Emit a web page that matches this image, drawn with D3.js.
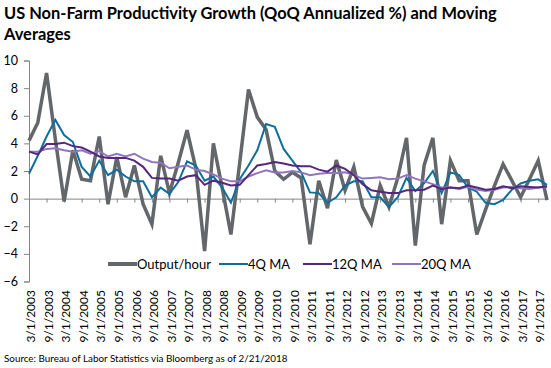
<!DOCTYPE html>
<html>
<head>
<meta charset="utf-8">
<script src="https://cdn.jsdelivr.net/npm/d3@7"></script>
<style>
  body { margin: 0; background: #fff; }
  svg { display: block; }
  text { font-family: Lato, "Open Sans", sans-serif; fill: #000; }
</style>
</head>
<body>
<div id="chart"></div>
<script>
// quarterly dates
var quarters = [
  '3/1/2003','6/1/2003','9/1/2003','12/1/2003','3/1/2004','6/1/2004','9/1/2004','12/1/2004',
  '3/1/2005','6/1/2005','9/1/2005','12/1/2005','3/1/2006','6/1/2006','9/1/2006','12/1/2006',
  '3/1/2007','6/1/2007','9/1/2007','12/1/2007','3/1/2008','6/1/2008','9/1/2008','12/1/2008',
  '3/1/2009','6/1/2009','9/1/2009','12/1/2009','3/1/2010','6/1/2010','9/1/2010','12/1/2010',
  '3/1/2011','6/1/2011','9/1/2011','12/1/2011','3/1/2012','6/1/2012','9/1/2012','12/1/2012',
  '3/1/2013','6/1/2013','9/1/2013','12/1/2013','3/1/2014','6/1/2014','9/1/2014','12/1/2014',
  '3/1/2015','6/1/2015','9/1/2015','12/1/2015','3/1/2016','6/1/2016','9/1/2016','12/1/2016',
  '3/1/2017','6/1/2017','9/1/2017','12/1/2017'
];

var outputHour = [
  4.2, 5.5, 9.1, 4.3, -0.2, 3.5, 1.4, 1.3, 4.5, -0.4,
  3.0, 0.1, 2.4, -0.4, -1.85, 3.1, 0.4, 2.6, 4.95, 2.2,
  -3.8, 4.0, 0.8, -2.6, 2.6, 7.9, 5.9, 5.0, 2.0, 1.4,
  1.9, 1.5, -3.3, 1.3, -0.7, 2.8, 0.6, 2.3, -0.6, -1.8,
  0.95, -0.6, 1.5, 4.4, -3.4, 2.4, 4.4, -1.85, 2.75, 1.3,
  1.3, -2.6, -0.8, 0.9, 2.5, 1.3, 0.1, 1.4, 2.75, -0.1
];
var ma4 = [
  1.8, 3.1, 4.5, 5.7, 4.6, 4.1, 2.3, 1.6, 2.75, 1.7,
  2.1, 1.6, 1.25, 1.25, 0.1, 0.8, 0.35, 1.2, 2.7, 2.4,
  1.3, 1.6, 0.8, -0.3, 1.4, 2.4, 3.5, 5.4, 5.2, 3.6,
  2.75, 1.9, 0.45, 0.4, -0.3, 0.1, 0.95, 1.25, 1.25, 0.1,
  0.1, -0.6, 0.1, 1.5, 0.55, 1.1, 2.0, 0.4, 1.9, 1.7,
  0.8, 0.5, -0.3, -0.4, -0.1, 0.65, 1.1, 1.3, 1.4, 1.0
];
var ma12 = [
  3.4, 3.2, 3.95, 3.95, 4.05, 3.8, 3.7, 3.4, 3.05, 2.95,
  2.95, 2.95, 2.75, 2.3, 1.5, 1.45, 1.45, 1.3, 1.6, 1.7,
  1.0, 1.3, 1.15, 0.95, 1.0, 1.7, 2.4, 2.5, 2.65, 2.55,
  2.4, 2.35, 2.35, 2.1, 1.95, 2.4, 2.15, 1.7, 1.05, 0.6,
  0.5, 0.4, 0.4, 0.6, 0.6, 0.65, 0.95, 0.7, 0.8, 0.75,
  0.95, 0.8, 0.65, 0.7, 0.9, 0.75, 0.9, 0.85, 0.8, 0.9
];
var ma20 = [
  3.4, 3.4, 3.6, 3.65, 3.5, 3.4, 3.5, 3.25, 3.45, 3.05,
  3.25, 3.05, 3.25, 2.9, 2.65, 2.6, 2.2, 2.3, 2.4, 2.1,
  2.0, 1.75, 1.45, 1.25, 1.25, 1.6, 1.85, 2.05, 1.9, 1.9,
  2.0, 1.9, 1.7, 1.8, 1.85, 1.85, 1.9, 1.7, 1.45, 1.5,
  1.55, 1.4, 1.45, 1.7, 1.45, 1.25, 1.05, 0.8, 0.8, 0.7,
  0.85, 0.65, 0.55, 0.65, 0.8, 0.85, 0.75, 0.7, 0.8, 0.85
];
var seriesNames = ['Output/hour', '4Q MA', '12Q MA', '20Q MA'];
var yTicks = [-6, -4, -2, 0, 2, 4, 6, 8, 10];

var width = 551, height = 368;
var plotLeft = 29, plotRight = 547, plotTop = 60.5, plotBottom = 281.5;

var colors = ['#63666a', '#0f6f9c', '#55277d', '#9175bd'];
var widths = [3.5, 2, 2, 2];
var legendWidths = [4, 2, 2, 2];

var svg = d3.select('#chart').append('svg')
  .attr('width', width)
  .attr('height', height);

// fits a text element to a given width by scaling its font size
function fitWidth(sel, w) {
  var cur = sel.node().getComputedTextLength();
  var fs = parseFloat(sel.attr('font-size'));
  sel.attr('font-size', (fs * w / cur).toFixed(2));
}

// title
var t1 = svg.append('text').attr('x', 4).attr('y', 19)
  .attr('font-size', 18).attr('font-weight', 'bold')
  .text('US Non-Farm Productivity Growth (QoQ Annualized %) and Moving');
fitWidth(t1, 493);
svg.append('text').attr('x', 4).attr('y', 40)
  .attr('font-size', t1.attr('font-size')).attr('font-weight', 'bold')
  .text('Averages');

var x = d3.scalePoint().domain(d3.range(quarters.length)).range([plotLeft, plotRight]);
var y = d3.scaleLinear().domain([-6, 10]).range([plotBottom, plotTop]);

// y axis
var yAxis = svg.append('g')
  .attr('transform', 'translate(' + plotLeft + ',0)')
  .call(d3.axisLeft(y).tickValues(yTicks).tickSize(5).tickPadding(6).tickFormat(d3.format('d')));
yAxis.select('.domain').attr('stroke', '#868686');
yAxis.selectAll('.tick line').attr('stroke', '#868686');
yAxis.selectAll('.tick text').attr('font-size', 12.5).attr('font-family', 'Lato').attr('fill', '#000');

// category axis at zero, ticks every two quarters
var xAxis = svg.append('g')
  .attr('transform', 'translate(0,' + y(0) + ')')
  .call(d3.axisBottom(x).tickValues(d3.range(0, quarters.length, 2)).tickSize(4).tickFormat(''));
xAxis.select('.domain').attr('stroke', '#868686').attr('d', 'M' + plotLeft + ',0.5H' + plotRight);
xAxis.selectAll('.tick line').attr('stroke', '#868686');

// date labels at the bottom
svg.append('g').selectAll('text')
  .data(d3.range(0, quarters.length, 2))
  .join('text')
  .attr('transform', function(i) { return 'translate(' + (x(i) + 2) + ',290) rotate(-90)'; })
  .attr('text-anchor', 'end')
  .attr('dy', '0.35em')
  .attr('font-size', 12)
  .text(function(i) { return quarters[i]; });

// series lines, drawn from the back
var allSeries = [outputHour, ma4, ma12, ma20];
var line = d3.line().x(function(d, i) { return x(i); }).y(function(d) { return y(d); });
[0, 1, 3, 2].forEach(function(k) {
  svg.append('path')
    .datum(allSeries[k])
    .attr('fill', 'none')
    .attr('stroke', colors[k])
    .attr('stroke-width', widths[k])
    .attr('stroke-linejoin', 'miter')
    .attr('d', line);
});

// legend
var legendX = [108, 219, 303, 392];
var lg = svg.append('g').selectAll('g')
  .data(seriesNames)
  .join('g')
  .attr('transform', function(d, i) { return 'translate(' + legendX[i] + ',264)'; });
lg.append('line')
  .attr('x1', 0).attr('x2', 29)
  .attr('stroke', function(d, i) { return colors[i]; })
  .attr('stroke-width', function(d, i) { return legendWidths[i]; });
lg.append('text')
  .attr('x', 29)
  .attr('dy', '0.35em')
  .attr('font-size', 13)
  .text(function(d) { return d; });

// source
var src = svg.append('text').attr('x', 4).attr('y', 362)
  .attr('font-size', 10)
  .text('Source: Bureau of Labor Statistics via Bloomberg as of 2/21/2018');
fitWidth(src, 284);
</script>
</body>
</html>
